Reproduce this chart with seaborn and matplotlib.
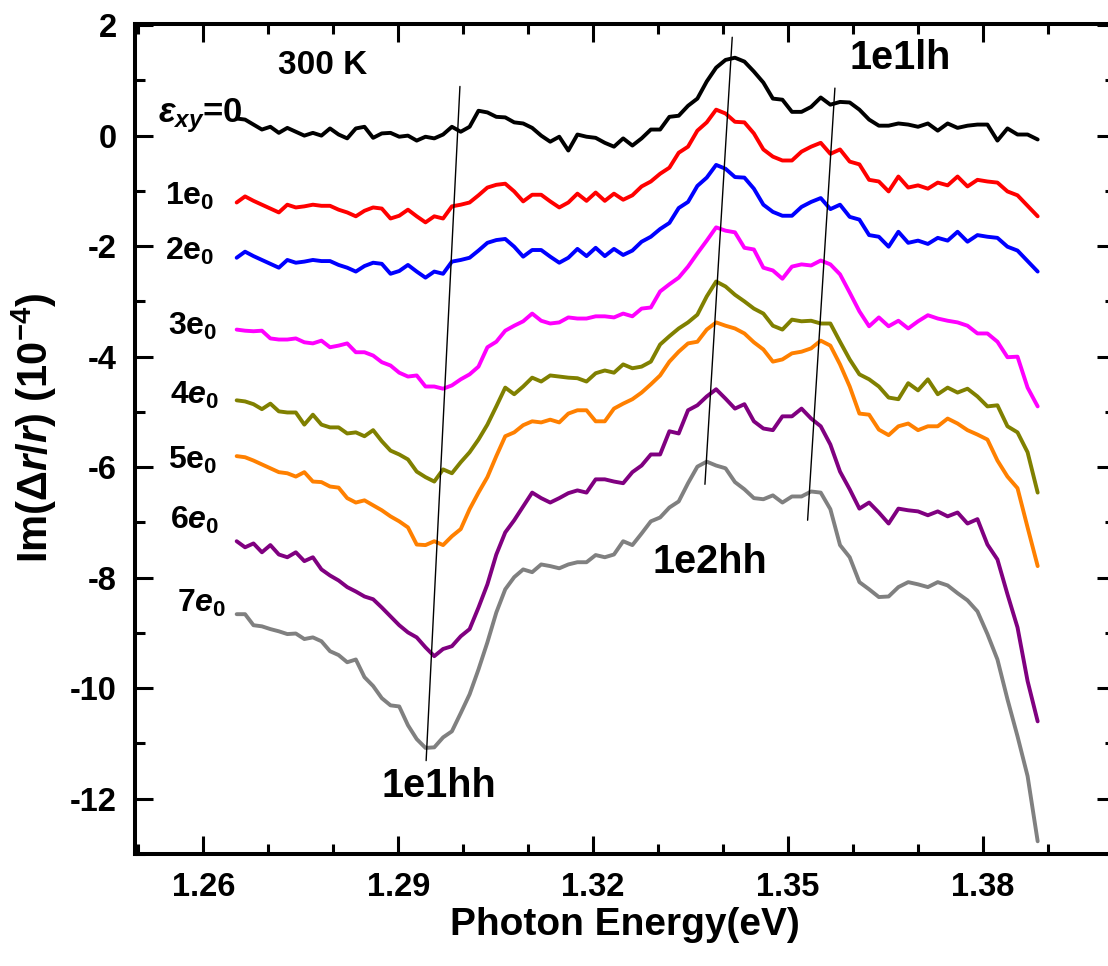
import numpy as np
import pandas as pd
import matplotlib
matplotlib.use("Agg")
import matplotlib.pyplot as plt
import seaborn as sns
from matplotlib.ticker import MultipleLocator, FormatStrFormatter

# Spectra were recorded in 1 nm steps from 980 nm down to 893 nm
wavelength_nm = np.arange(980, 892, -1)
photon_energy = 1239.842 / wavelength_nm

strain_labels = ["0", "1e0", "2e0", "3e0", "4e0", "5e0", "6e0", "7e0"]
curve_colors = ["#000000", "#FF0000", "#0000FF", "#FF00FF",
                "#808000", "#FF8000", "#800080", "#808080"]

# Im(dr/r) in units of 1e-4, curves offset vertically for each strain step
im_strain0 = [0.31, 0.29, 0.20, 0.11, 0.16, 0.05, 0.14, 0.07, 0.00, 0.05,
              0.00, 0.13, 0.02, -0.05, 0.13, 0.16, -0.04, 0.04, 0.05, -0.02,
              0.00, -0.09, -0.02, -0.05, 0.02, 0.16, 0.07, 0.16, 0.45, 0.42,
              0.34, 0.33, 0.24, 0.22, 0.14, 0.00, -0.11, -0.02, -0.27, 0.02,
              -0.02, -0.04, -0.13, -0.20, -0.05, -0.18, -0.05, 0.11, 0.11, 0.34,
              0.36, 0.54, 0.67, 0.98, 1.23, 1.37, 1.41, 1.34, 1.16, 0.96,
              0.67, 0.65, 0.43, 0.43, 0.52, 0.69, 0.56, 0.61, 0.60, 0.47,
              0.29, 0.18, 0.18, 0.22, 0.20, 0.16, 0.22, 0.09, 0.22, 0.14,
              0.18, 0.20, 0.20, -0.09, 0.13, 0.02, 0.02, -0.07]
im_strain1 = [-1.21, -1.10, -1.18, -1.25, -1.32, -1.39, -1.25, -1.30, -1.28, -1.25,
              -1.27, -1.27, -1.34, -1.39, -1.46, -1.36, -1.30, -1.32, -1.50, -1.45,
              -1.34, -1.46, -1.57, -1.46, -1.50, -1.28, -1.25, -1.21, -1.08, -0.94,
              -0.89, -0.87, -1.01, -1.19, -1.07, -1.07, -1.19, -1.30, -1.21, -1.05,
              -1.18, -1.03, -1.18, -1.05, -1.16, -1.08, -0.92, -0.83, -0.69, -0.58,
              -0.31, -0.20, 0.09, 0.24, 0.47, 0.40, 0.25, 0.24, 0.04, -0.25,
              -0.38, -0.45, -0.45, -0.29, -0.20, -0.13, -0.33, -0.25, -0.47, -0.52,
              -0.80, -0.83, -1.01, -0.74, -0.94, -0.90, -0.96, -0.85, -0.90, -0.74,
              -0.92, -0.80, -0.83, -0.85, -1.01, -1.08, -1.27, -1.46]
im_strain2 = [-2.21, -2.10, -2.18, -2.25, -2.32, -2.39, -2.25, -2.30, -2.28, -2.25,
              -2.27, -2.27, -2.34, -2.39, -2.46, -2.36, -2.30, -2.32, -2.50, -2.45,
              -2.34, -2.46, -2.57, -2.46, -2.50, -2.28, -2.25, -2.21, -2.08, -1.94,
              -1.89, -1.87, -2.01, -2.19, -2.07, -2.07, -2.19, -2.30, -2.21, -2.05,
              -2.18, -2.03, -2.18, -2.05, -2.16, -2.08, -1.92, -1.83, -1.69, -1.58,
              -1.31, -1.20, -0.91, -0.76, -0.53, -0.60, -0.75, -0.76, -0.96, -1.25,
              -1.38, -1.45, -1.45, -1.29, -1.20, -1.13, -1.33, -1.25, -1.47, -1.52,
              -1.80, -1.83, -2.01, -1.74, -1.94, -1.90, -1.96, -1.85, -1.90, -1.74,
              -1.92, -1.80, -1.83, -1.85, -2.01, -2.08, -2.27, -2.46]
im_strain3 = [-3.51, -3.53, -3.54, -3.53, -3.67, -3.69, -3.69, -3.67, -3.74, -3.76,
              -3.71, -3.83, -3.80, -3.76, -3.92, -3.92, -3.98, -4.10, -4.16, -4.29,
              -4.36, -4.34, -4.54, -4.54, -4.58, -4.52, -4.41, -4.32, -4.18, -3.83,
              -3.73, -3.53, -3.44, -3.36, -3.22, -3.35, -3.40, -3.38, -3.29, -3.31,
              -3.31, -3.27, -3.27, -3.29, -3.22, -3.27, -3.13, -3.11, -2.82, -2.69,
              -2.57, -2.37, -2.13, -1.90, -1.66, -1.72, -1.75, -2.03, -2.06, -2.39,
              -2.44, -2.59, -2.37, -2.33, -2.35, -2.26, -2.33, -2.51, -2.84, -3.18,
              -3.45, -3.29, -3.45, -3.35, -3.49, -3.36, -3.25, -3.31, -3.35, -3.38,
              -3.44, -3.58, -3.58, -3.73, -4.01, -4.00, -4.56, -4.90]
im_strain4 = [-4.79, -4.81, -4.86, -4.95, -4.85, -4.99, -5.01, -5.01, -5.23, -5.05,
              -5.23, -5.28, -5.28, -5.39, -5.37, -5.44, -5.33, -5.53, -5.70, -5.77,
              -5.86, -6.08, -6.18, -6.26, -6.04, -6.11, -5.91, -5.73, -5.50, -5.23,
              -4.90, -4.56, -4.68, -4.54, -4.38, -4.45, -4.34, -4.36, -4.38, -4.39,
              -4.45, -4.30, -4.25, -4.29, -4.14, -4.21, -4.18, -4.09, -3.78, -3.63,
              -3.49, -3.38, -3.24, -2.91, -2.64, -2.73, -2.88, -3.00, -3.13, -3.22,
              -3.44, -3.51, -3.33, -3.36, -3.35, -3.40, -3.40, -3.73, -4.05, -4.32,
              -4.41, -4.54, -4.74, -4.77, -4.48, -4.61, -4.41, -4.68, -4.56, -4.65,
              -4.58, -4.72, -4.90, -4.88, -5.26, -5.37, -5.73, -6.46]
im_strain5 = [-5.80, -5.82, -5.88, -5.95, -6.02, -6.09, -6.11, -6.17, -6.09, -6.26,
              -6.27, -6.35, -6.37, -6.56, -6.64, -6.60, -6.69, -6.78, -6.89, -6.98,
              -7.09, -7.40, -7.41, -7.34, -7.41, -7.25, -7.12, -6.76, -6.46, -6.18,
              -5.80, -5.44, -5.37, -5.24, -5.17, -5.19, -5.14, -5.19, -5.03, -4.97,
              -4.97, -5.17, -5.17, -4.94, -4.85, -4.77, -4.65, -4.50, -4.34, -4.09,
              -3.91, -3.76, -3.73, -3.51, -3.38, -3.44, -3.49, -3.58, -3.74, -3.87,
              -4.09, -4.05, -3.94, -3.91, -3.85, -3.71, -3.80, -4.14, -4.54, -5.03,
              -5.05, -5.32, -5.42, -5.26, -5.21, -5.33, -5.26, -5.26, -5.12, -5.21,
              -5.33, -5.41, -5.50, -5.88, -6.17, -6.38, -7.09, -7.79]
im_strain6 = [-7.34, -7.45, -7.38, -7.54, -7.41, -7.58, -7.63, -7.54, -7.70, -7.63,
              -7.85, -7.96, -8.05, -8.17, -8.25, -8.34, -8.39, -8.54, -8.70, -8.86,
              -8.99, -9.08, -9.26, -9.42, -9.29, -9.24, -9.06, -8.93, -8.54, -8.12,
              -7.58, -7.18, -6.96, -6.71, -6.46, -6.56, -6.64, -6.56, -6.47, -6.42,
              -6.46, -6.22, -6.22, -6.26, -6.29, -6.09, -5.97, -5.77, -5.77, -5.35,
              -5.39, -4.97, -4.88, -4.72, -4.59, -4.76, -4.94, -4.86, -5.17, -5.30,
              -5.33, -5.08, -5.08, -4.94, -5.12, -5.26, -5.59, -6.08, -6.40, -6.75,
              -6.64, -6.82, -7.02, -6.75, -6.78, -6.80, -6.87, -6.80, -6.89, -6.82,
              -7.02, -6.94, -7.40, -7.67, -8.30, -8.90, -9.87, -10.60]
im_strain7 = [-8.66, -8.66, -8.86, -8.88, -8.93, -8.97, -9.02, -9.01, -9.11, -9.08,
              -9.15, -9.33, -9.40, -9.53, -9.48, -9.80, -9.96, -10.18, -10.31, -10.33,
              -10.67, -10.92, -11.08, -11.07, -10.89, -10.78, -10.45, -10.11, -9.66, -9.17,
              -8.63, -8.21, -7.99, -7.85, -7.90, -7.76, -7.79, -7.83, -7.76, -7.72,
              -7.72, -7.59, -7.63, -7.58, -7.34, -7.41, -7.20, -6.98, -6.91, -6.73,
              -6.62, -6.29, -5.99, -5.90, -5.97, -6.02, -6.27, -6.40, -6.56, -6.58,
              -6.51, -6.64, -6.53, -6.53, -6.44, -6.46, -6.76, -7.41, -7.63, -8.08,
              -8.21, -8.35, -8.34, -8.17, -8.08, -8.12, -8.17, -8.08, -8.14, -8.28,
              -8.41, -8.61, -9.02, -9.48, -10.20, -10.87, -11.59, -12.77]

# Guide lines tracking the transitions as strain increases
guide_1e1hh = {"x": [1.2995, 1.2943], "y": [0.89, -11.31]}
guide_1e2hh = {"x": [1.3414, 1.3372], "y": [1.78, -6.31]}
guide_1e1lh = {"x": [1.3572, 1.3530], "y": [0.86, -6.96]}

series = [im_strain0, im_strain1, im_strain2, im_strain3,
          im_strain4, im_strain5, im_strain6, im_strain7]
frames = []
for label, values in zip(strain_labels, series):
    frames.append(pd.DataFrame({"energy": photon_energy,
                                "signal": values,
                                "strain": label}))
spectra = pd.concat(frames, ignore_index=True)

sns.set_theme(style="ticks")
plt.rcParams["font.family"] = ["Liberation Sans", "DejaVu Sans"]
plt.rcParams["font.weight"] = "bold"
plt.rcParams["axes.labelweight"] = "bold"
plt.rcParams["axes.unicode_minus"] = False
plt.rcParams["text.color"] = "black"
plt.rcParams["axes.labelcolor"] = "black"
plt.rcParams["xtick.color"] = "black"
plt.rcParams["ytick.color"] = "black"
plt.rcParams["axes.edgecolor"] = "black"
plt.rcParams["mathtext.fontset"] = "custom"
plt.rcParams["mathtext.rm"] = "Liberation Sans:bold"
plt.rcParams["mathtext.it"] = "Liberation Sans:italic:bold"
plt.rcParams["mathtext.bf"] = "Liberation Sans:bold"
plt.rcParams["mathtext.sf"] = "Liberation Sans"

fig = plt.figure(figsize=(11.08, 9.66), dpi=100)
ax = fig.add_axes([135 / 1108, 112 / 966, 980 / 1108, 830 / 966])

sns.lineplot(data=spectra, x="energy", y="signal", hue="strain",
             hue_order=strain_labels, palette=curve_colors,
             estimator=None, sort=False, legend=False, linewidth=2.8, ax=ax)

for guide in (guide_1e1hh, guide_1e2hh, guide_1e1lh):
    ax.plot(guide["x"], guide["y"], color="black", linewidth=1.0)

ax.set_xlim(1.2495, 1.4003)
ax.set_ylim(-13, 2.02)
ax.xaxis.set_major_locator(MultipleLocator(0.03))
ax.xaxis.set_minor_locator(MultipleLocator(0.01))
ax.xaxis.set_major_formatter(FormatStrFormatter("%.2f"))
ax.yaxis.set_major_locator(MultipleLocator(2))
ax.yaxis.set_minor_locator(MultipleLocator(1))
ax.yaxis.set_major_formatter(FormatStrFormatter("%d"))

ax.tick_params(which="both", direction="in", top=True, right=True,
               color="black", labelcolor="black")
ax.tick_params(which="major", length=13, width=2.2, labelsize=23.5, pad=13)
ax.tick_params(which="minor", length=7.5, width=2.2)
for spine in ax.spines.values():
    spine.set_linewidth(2.9)
    spine.set_color("black")

ax.set_xlabel("Photon Energy(eV)", fontsize=28, fontweight="bold")
ax.set_ylabel(r"Im($\mathsf{\Delta}$$\mathit{r/r}$) $\mathsf{(}$10$^{-4}$$\mathsf{)}$",
              fontsize=30, fontweight="bold")
ax.xaxis.set_label_coords(0.4995, -0.064)
ax.yaxis.set_label_coords(-0.078, 0.513)

ax.text(1.2783, 1.27, "300 K", ha="center", va="center", fontsize=24,
        fontweight="bold")
ax.text(1.2531, 0.235, r"$\varepsilon_{xy}$=$\mathit{0}$", ha="left",
        va="baseline", fontsize=25, fontweight="bold")

strain_text = [
    (1.25415, -1.25, r"1e$_{\mathit{0}}$"),
    (1.25415, -2.24, r"2e$_{\mathit{0}}$"),
    (1.25462, -3.60, r"3e$_{\mathit{0}}$"),
    (1.25492, -4.86, r"$\mathit{4e_{0}}$"),
    (1.25462, -6.04, r"5e$_{\mathit{0}}$"),
    (1.25492, -7.12, r"$\mathit{6e_{0}}$"),
    (1.25600, -8.61, r"$\mathit{7e_{0}}$"),
]
for x, y, txt in strain_text:
    ax.text(x, y, txt, ha="left", va="baseline", fontsize=23,
            fontweight="bold")

ax.text(1.2962, -11.77, "1e1hh", ha="center", va="center", fontsize=28.5,
        fontweight="bold")
ax.text(1.3380, -7.72, "1e2hh", ha="center", va="center", fontsize=28.5,
        fontweight="bold")
ax.text(1.3672, 1.41, "1e1lh", ha="center", va="center", fontsize=28.5,
        fontweight="bold")

fig.savefig("out.png", dpi=100, facecolor="white")
